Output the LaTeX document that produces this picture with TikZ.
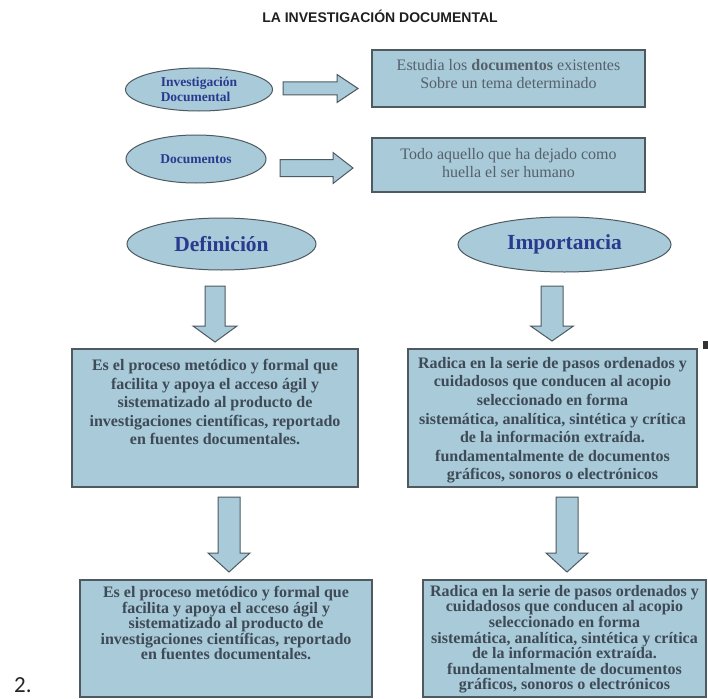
\documentclass[tikz,border=0pt]{standalone}
\usepackage{fontspec}
\setmainfont{Liberation Serif}
\newfontfamily\titlefont{Liberation Sans}
\newfontfamily\numfont{Carlito}
\usetikzlibrary{shapes.geometric}
\definecolor{fillblue}{HTML}{A8CAD9}
\definecolor{edgegray}{HTML}{4F5A60}
\definecolor{navy}{HTML}{2A3A8E}
\definecolor{boxtext}{HTML}{3E4A55}
\definecolor{toptext}{HTML}{56606A}
\newcommand{\harrow}[6]{\draw[blk] (#1,#2-#5) -- (#3,#2-#5) -- (#3,#2-#6) -- (#4,#2) -- (#3,#2+#6) -- (#3,#2+#5) -- (#1,#2+#5) -- cycle;}
\newcommand{\varrow}[6]{\draw[blk] (#1-#5,#2) -- (#1+#5,#2) -- (#1+#5,#3) -- (#1+#6,#3) -- (#1,#4) -- (#1-#6,#3) -- (#1-#5,#3) -- cycle;}
\begin{document}
\begin{tikzpicture}[x=1pt,y=-1pt,
  oval/.style={ellipse, draw=edgegray, fill=fillblue, line width=1pt, inner sep=0pt, text=navy, font=\bfseries},
  panel/.style={draw=edgegray, fill=fillblue, line width=1.2pt, inner sep=0pt},
  blk/.style={draw=edgegray, fill=fillblue, line width=1pt, line join=miter},
  toptxt/.style={align=center, text=toptext, inner sep=0pt, font=\fontsize{16}{18}\selectfont},
  midtxt/.style={align=center, text=boxtext, inner sep=0pt, anchor=north, font=\bfseries\fontsize{16}{18.6}\selectfont},
  lowtxt/.style={align=center, text=boxtext, inner sep=0pt, anchor=north, font=\bfseries\fontsize{16}{15.6}\selectfont}]
\useasboundingbox (0,0) rectangle (708,698);
\fill[white] (0,0) rectangle (708,698);

\node[text=black!88, font=\titlefont\bfseries\fontsize{14}{16}\selectfont] (title) at (380,16) {LA INVESTIGACIÓN DOCUMENTAL};

% top row
\node[oval, minimum width=147pt, minimum height=43pt, align=left, font=\bfseries\fontsize{13.5}{14.5}\selectfont] (e1) at (199,89.5) {Investigación\\Documental};
\node[oval, minimum width=140pt, minimum height=48pt, font=\bfseries\fontsize{13.5}{14.5}\selectfont] (e2) at (196,159) {Documentos};
\node[panel, minimum width=273pt, minimum height=57pt] (b1) at (508.5,78.5) {};
\node[panel, minimum width=273pt, minimum height=54pt] (b2) at (508.5,165) {};
\node[toptxt] (t1) at (508.5,74.5) {Estudia los \textbf{documentos} existentes\\Sobre un tema determinado};
\node[toptxt] (t2) at (508.5,163) {Todo aquello que ha dejado como\\huella el ser humano};
\harrow{283}{88.5}{337}{358}{6.5}{14}
\harrow{280}{168}{333}{353}{8.5}{15.5}

% middle row
\node[oval, minimum width=189pt, minimum height=52pt, font=\bfseries\fontsize{21.5}{24}\selectfont] (e3) at (221.5,244) {Definición};
\node[oval, minimum width=213pt, minimum height=55pt, font=\bfseries\fontsize{21.5}{24}\selectfont] (e4) at (564.5,244.5) {Importancia};
\varrow{215}{286}{326}{342}{10}{22}
\varrow{552}{286}{326}{341}{11}{21.5}
\node[panel, minimum width=286pt, minimum height=138pt] (d1) at (215,418) {};
\node[panel, minimum width=289pt, minimum height=138pt] (i1) at (552.5,418) {};
\node[midtxt] (dt1) at (215,359) {Es el proceso metódico y formal que\\facilita y apoya el acceso ágil y\\sistematizado al producto de\\investigaciones científicas, reportado\\en fuentes documentales.};
\node[midtxt] (it1) at (552.5,357) {Radica en la serie de pasos ordenados y\\cuidadosos que conducen al acopio\\seleccionado en forma\\sistemática, analítica, sintética y crítica\\de la información extraída.\\fundamentalmente de documentos\\gráficos, sonoros o electrónicos};
\fill[black!80] (703,341) rectangle (708,349);

% bottom row
\varrow{229}{497}{553}{572}{11}{21}
\varrow{567}{497}{553}{572}{11}{21}
\node[panel, minimum width=292pt, minimum height=117pt] (d2) at (226,638.5) {};
\node[panel, minimum width=283pt, minimum height=117pt] (i2) at (564.5,638.5) {};
\node[lowtxt] (dt2) at (226,586) {Es el proceso metódico y formal que\\facilita y apoya el acceso ágil y\\sistematizado al producto de\\investigaciones científicas, reportado\\en fuentes documentales.};
\node[lowtxt] (it2) at (564.5,585) {Radica en la serie de pasos ordenados y\\cuidadosos que conducen al acopio\\seleccionado en forma\\sistemática, analítica, sintética y crítica\\de la información extraída.\\fundamentalmente de documentos\\gráficos, sonoros o electrónicos};

\node[anchor=base west, inner sep=0pt, text=black!85, font=\numfont\fontsize{23}{25}\selectfont] (num) at (14,692) {2.};
\end{tikzpicture}
\end{document}
